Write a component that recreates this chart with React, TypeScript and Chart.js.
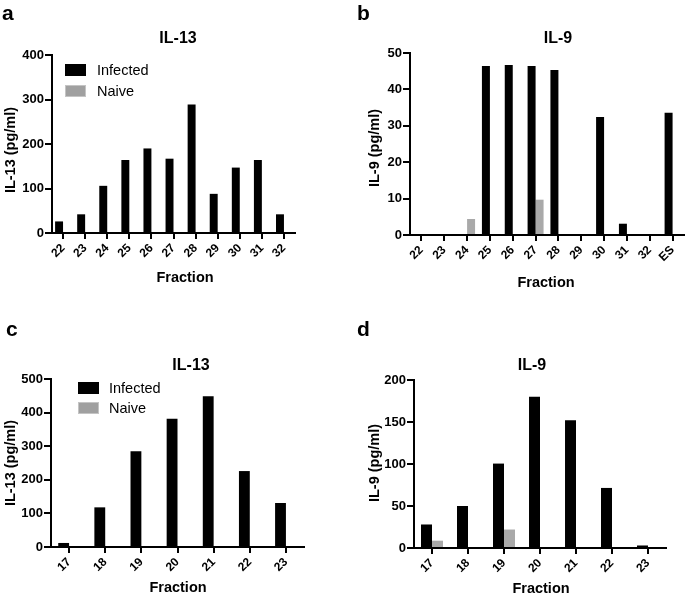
import React, { useEffect, useRef } from "react";
import { Chart, registerables } from "chart.js";

Chart.register(...registerables);

const FONT = "'Liberation Sans', Arial, Helvetica, sans-serif";

// ---- data ----
const seriesNames = ["Infected", "Naive"];
const seriesColors = ["#000000", "#a9a9a9"];

const fractionsA = ["22", "23", "24", "25", "26", "27", "28", "29", "30", "31", "32"];
const infectedA = [26, 42, 106, 164, 190, 167, 289, 88, 147, 164, 42];
const naiveA = [0, 0, 0, 0, 0, 0, 0, 0, 0, 0, 0];

const fractionsB = ["22", "23", "24", "25", "26", "27", "28", "29", "30", "31", "32", "ES"];
const infectedB = [0, 0, 0, 46.4, 46.7, 46.4, 45.3, 0, 32.4, 3.1, 0, 33.6];
const naiveB = [0, 0, 4.4, 0, 0, 9.7, 0, 0, 0, 0, 0, 0];

const fractionsC = ["17", "18", "19", "20", "21", "22", "23"];
const infectedC = [12, 118, 285, 382, 449, 226, 131];
const naiveC = [0, 0, 0, 0, 0, 0, 0];

const fractionsD = ["17", "18", "19", "20", "21", "22", "23"];
const infectedD = [28, 50, 100.5, 180, 152, 71.5, 3];
const naiveD = [8.7, 0, 22, 0, 0, 0, 0];

type Box = { x: number; y: number; w: number; h: number };
type Area = { l: number; t: number; r: number; b: number };

function BarPanel(props: {
  box: Box;
  area: Area;
  labels: string[];
  infected: number[];
  naive: number[];
  yMax: number;
  yStep: number;
  catPct: number;
}) {
  const ref = useRef<HTMLCanvasElement>(null);
  useEffect(() => {
    const { box, area } = props;
    const yW = 40;
    const xH = 40;
    const zeroPad = (s: any) => {
      s.paddingLeft = 0;
      s.paddingRight = 0;
      s.paddingTop = 0;
      s.paddingBottom = 0;
    };
    const chart = new Chart(ref.current as HTMLCanvasElement, {
      type: "bar",
      data: {
        labels: props.labels,
        datasets: [
          {
            label: seriesNames[0],
            data: props.infected,
            backgroundColor: seriesColors[0],
            borderWidth: 0,
            categoryPercentage: props.catPct,
            barPercentage: 1,
          },
          {
            label: seriesNames[1],
            data: props.naive,
            backgroundColor: seriesColors[1],
            borderWidth: 0,
            categoryPercentage: props.catPct,
            barPercentage: 1,
          },
        ],
      },
      options: {
        animation: false,
        responsive: false,
        devicePixelRatio: 1,
        layout: {
          padding: {
            left: area.l - box.x - yW,
            top: area.t - box.y,
            right: box.x + box.w - area.r,
            bottom: box.y + box.h - area.b - xH,
          },
        },
        plugins: {
          legend: { display: false },
          title: { display: false },
          tooltip: { enabled: false },
        },
        scales: {
          x: {
            offset: true,
            grid: {
              display: true,
              drawOnChartArea: false,
              drawTicks: true,
              tickLength: 6,
              color: "#000",
              lineWidth: 2,
              offset: false,
            },
            border: { display: true, color: "#000", width: 2 },
            ticks: {
              autoSkip: false,
              minRotation: 45,
              maxRotation: 45,
              padding: 2,
              color: "#000",
              font: { family: FONT, size: 12, weight: "bold" },
            },
            afterFit: (s: any) => {
              s.height = xH;
              zeroPad(s);
            },
          },
          y: {
            min: 0,
            max: props.yMax,
            grid: {
              display: true,
              drawOnChartArea: false,
              drawTicks: true,
              tickLength: 7,
              color: "#000",
              lineWidth: 2,
            },
            border: { display: true, color: "#000", width: 2 },
            ticks: {
              stepSize: props.yStep,
              padding: 1,
              color: "#000",
              font: { family: FONT, size: 13, weight: "bold" },
            },
            afterFit: (s: any) => {
              s.width = yW;
              zeroPad(s);
            },
          },
        },
      },
    });
    return () => chart.destroy();
  }, []);
  const { box } = props;
  return (
    <canvas
      ref={ref}
      width={box.w}
      height={box.h}
      style={{ position: "absolute", left: box.x, top: box.y, width: box.w, height: box.h }}
    />
  );
}

function Text(props: {
  x: number;
  y: number;
  text: string;
  size: number;
  bold?: boolean;
  rotate?: boolean;
  anchor?: "center" | "left" | "topleft";
}) {
  const { x, y, text, size, bold, rotate, anchor = "center" } = props;
  let transform = "";
  if (anchor === "center") transform = "translate(-50%, -50%)";
  else if (anchor === "left") transform = "translate(0, -50%)";
  if (rotate) transform += " rotate(-90deg)";
  return (
    <div
      style={{
        position: "absolute",
        left: x,
        top: y,
        transform,
        whiteSpace: "nowrap",
        fontFamily: FONT,
        fontSize: size,
        fontWeight: bold ? "bold" : "normal",
        lineHeight: 1,
        color: "#000",
      }}
    >
      {text}
    </div>
  );
}

function Legend(props: { x: number; y: number; tx: number; gap: number }) {
  const { x, y, tx, gap } = props;
  return (
    <>
      {seriesNames.map((name, i) => (
        <React.Fragment key={name}>
          <div
            style={{
              position: "absolute",
              left: x,
              top: y + i * gap,
              width: 21,
              height: 12,
              boxSizing: "border-box",
              background: i === 0 ? seriesColors[0] : "#a0a0a0",
              border: i === 0 ? "none" : "1px solid #c4c4c4",
            }}
          />
          <Text x={tx} y={y + 6 + i * gap} text={name} size={14.5} anchor="left" />
        </React.Fragment>
      ))}
    </>
  );
}

export default function App() {
  return (
    <div
      style={{
        position: "fixed",
        left: 0,
        top: 0,
        width: 685,
        height: 596,
        background: "#fff",
        overflow: "hidden",
      }}
    >
      <BarPanel
        box={{ x: 0, y: 0, w: 340, h: 296 }}
        area={{ l: 52, t: 55, r: 295, b: 233 }}
        labels={fractionsA}
        infected={infectedA}
        naive={naiveA}
        yMax={400}
        yStep={100}
        catPct={0.72}
      />
      <BarPanel
        box={{ x: 340, y: 0, w: 345, h: 296 }}
        area={{ l: 410, t: 53, r: 684, b: 235 }}
        labels={fractionsB}
        infected={infectedB}
        naive={naiveB}
        yMax={50}
        yStep={10}
        catPct={0.7}
      />
      <BarPanel
        box={{ x: 0, y: 300, w: 340, h: 296 }}
        area={{ l: 51, t: 379, r: 304, b: 547 }}
        labels={fractionsC}
        infected={infectedC}
        naive={naiveC}
        yMax={500}
        yStep={100}
        catPct={0.6}
      />
      <BarPanel
        box={{ x: 340, y: 300, w: 345, h: 296 }}
        area={{ l: 414, t: 380, r: 666, b: 548 }}
        labels={fractionsD}
        infected={infectedD}
        naive={naiveD}
        yMax={200}
        yStep={50}
        catPct={0.61}
      />

      {/* panel letters */}
      <Text x={2} y={2} text="a" size={21} bold anchor="topleft" />
      <Text x={357} y={2} text="b" size={21} bold anchor="topleft" />
      <Text x={6} y={318} text="c" size={21} bold anchor="topleft" />
      <Text x={357} y={318} text="d" size={21} bold anchor="topleft" />

      {/* chart titles */}
      <Text x={178} y={38} text="IL-13" size={16} bold />
      <Text x={558} y={38} text="IL-9" size={16} bold />
      <Text x={191} y={365} text="IL-13" size={16} bold />
      <Text x={532} y={365} text="IL-9" size={16} bold />

      {/* y axis titles */}
      <Text x={10} y={150} text="IL-13 (pg/ml)" size={14.5} bold rotate />
      <Text x={374} y={148} text="IL-9 (pg/ml)" size={14.5} bold rotate />
      <Text x={10} y={463} text="IL-13 (pg/ml)" size={14.5} bold rotate />
      <Text x={374} y={463} text="IL-9 (pg/ml)" size={14.5} bold rotate />

      {/* x axis titles */}
      <Text x={185} y={277} text="Fraction" size={14.5} bold />
      <Text x={546} y={282} text="Fraction" size={14.5} bold />
      <Text x={178} y={587} text="Fraction" size={14.5} bold />
      <Text x={541} y={588} text="Fraction" size={14.5} bold />

      {/* legends */}
      <Legend x={65} y={64} tx={97} gap={21} />
      <Legend x={78} y={382} tx={109} gap={20} />
    </div>
  );
}
